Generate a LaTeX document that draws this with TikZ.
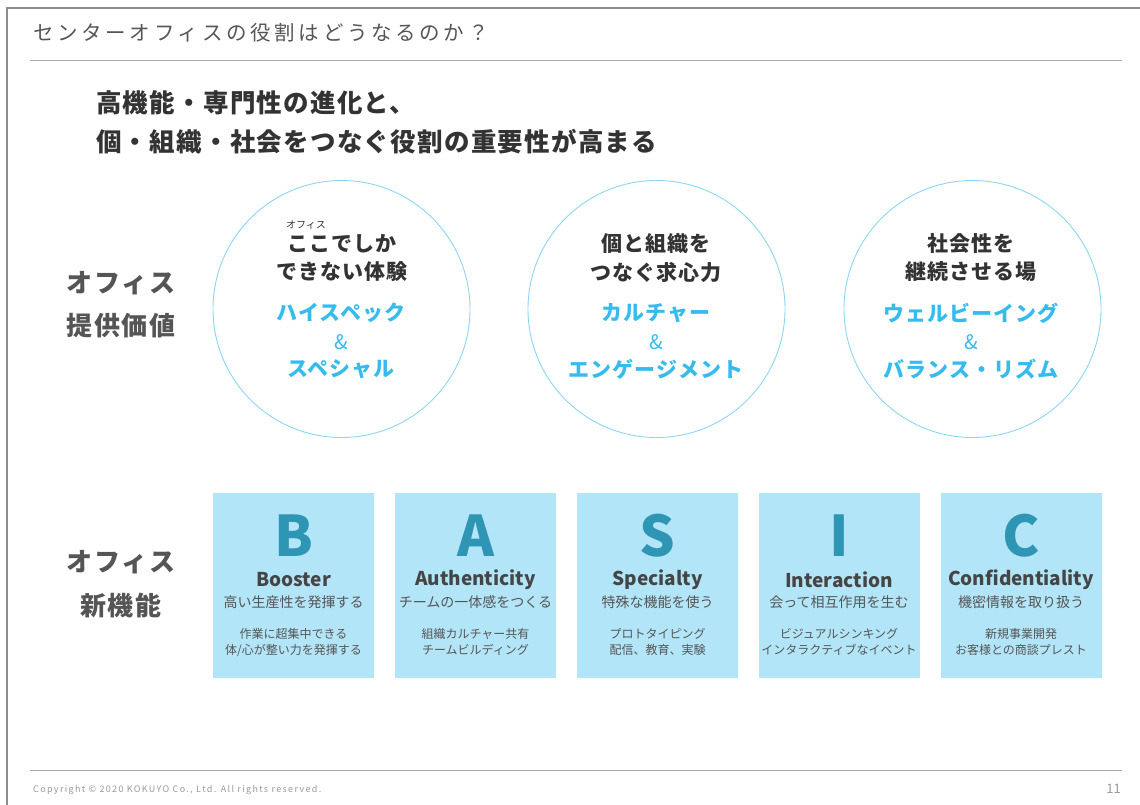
\documentclass[tikz,border=0pt]{standalone}
\usepackage{fontspec}
\setmainfont{Noto Sans CJK JP}
\newfontfamily\titlefont[LetterSpace=18]{Noto Sans CJK JP}
\newfontfamily\headfont[LetterSpace=5]{Noto Sans CJK JP}
\newfontfamily\sidefont[LetterSpace=6]{Noto Sans CJK JP}
\newfontfamily\circfont[LetterSpace=5]{Noto Sans CJK JP}
\newfontfamily\footfont[LetterSpace=15]{Noto Sans CJK JP}
\definecolor{framegray}{HTML}{8C8C8C}
\definecolor{linegray}{HTML}{AAAAAA}
\definecolor{darktext}{HTML}{333333}
\definecolor{midtext}{HTML}{555555}
\definecolor{bluetext}{HTML}{36BBEF}
\definecolor{circline}{HTML}{8AD6F6}
\definecolor{boxfill}{HTML}{B3E5F8}
\definecolor{lettercol}{HTML}{2F95B5}
\definecolor{namecol}{HTML}{454545}
\definecolor{footcol}{HTML}{999999}
\tikzset{
  circ/.style={circle, draw=circline, line width=0.9pt, minimum size=257pt, inner sep=0pt},
  sicbox/.style={rectangle, fill=boxfill, minimum width=161pt, minimum height=185pt, inner sep=0pt},
  ctext/.style={font=\circfont\fontsize{21}{21}\selectfont\bfseries, text=darktext, inner sep=0pt},
  btext/.style={font=\circfont\fontsize{21}{21}\selectfont\bfseries, text=bluetext, inner sep=0pt},
  amp/.style={font=\fontsize{20}{20}\selectfont, text=bluetext, inner sep=0pt},
  sidelabel/.style={font=\sidefont\fontsize{26}{26}\selectfont\bfseries, text=midtext, inner sep=0pt},
  letter/.style={font=\fontsize{56}{56}\selectfont\bfseries, text=lettercol, inner sep=0pt},
  bname/.style={font=\fontsize{19}{19}\selectfont\bfseries, text=namecol, inner sep=0pt},
  bsub/.style={font=\fontsize{14}{14}\selectfont, text=midtext, inner sep=0pt},
  bsmall/.style={font=\fontsize{12}{12}\selectfont, text=midtext, inner sep=0pt},
}
\begin{document}
\begin{tikzpicture}[x=1pt,y=-1pt]
\useasboundingbox (0,0) rectangle (1140,805);
% frame
\draw[framegray, line width=1.6pt] (7,805) -- (7,8) -- (1140,8);
% header
\node[anchor=west, inner sep=0pt, text=midtext, font=\titlefont\fontsize{20.5}{20.5}\selectfont] (title) at (33,33) {センターオフィスの役割はどうなるのか？};
\draw[linegray, line width=1pt] (30,61) -- (1122,61);
% headline
\node[anchor=west, inner sep=0pt, text=darktext, font=\headfont\fontsize{25.5}{25.5}\selectfont\bfseries] (head1) at (96,103) {高機能・専門性の進化と、};
\node[anchor=west, inner sep=0pt, text=darktext, font=\headfont\fontsize{25.5}{25.5}\selectfont\bfseries] (head2) at (96,142) {個・組織・社会をつなぐ役割の重要性が高まる};
% side labels
\node[sidelabel] (lab1a) at (121,283) {オフィス};
\node[sidelabel] (lab1b) at (121,326) {提供価値};
\node[sidelabel] (lab2a) at (121,562) {オフィス};
\node[sidelabel] (lab2b) at (121,606) {新機能};
% circles
\node[circ] (c1) at (341.5,309) {};
\node[circ] (c2) at (656.5,309) {};
\node[circ] (c3) at (972.5,309) {};
% circle 1
\node[inner sep=0pt, text=darktext, font=\fontsize{10}{10}\selectfont] (ruby) at (306,225) {オフィス};
\node[ctext] (c1a) at (342,244) {ここでしか};
\node[ctext] (c1b) at (342,272) {できない体験};
\node[btext] (c1c) at (341,313) {ハイスペック};
\node[amp] (c1d) at (341,342) {\&};
\node[btext] (c1e) at (341,369) {スペシャル};
% circle 2
\node[ctext] (c2a) at (656,244) {個と組織を};
\node[ctext] (c2b) at (656,272) {つなぐ求心力};
\node[btext] (c2c) at (656,313) {カルチャー};
\node[amp] (c2d) at (656,342) {\&};
\node[btext] (c2e) at (656,369) {エンゲージメント};
% circle 3
\node[ctext] (c3a) at (971,244) {社会性を};
\node[ctext] (c3b) at (971,272) {継続させる場};
\node[btext] (c3c) at (971,313) {ウェルビーイング};
\node[amp] (c3d) at (971,342) {\&};
\node[btext] (c3e) at (971,369) {バランス・リズム};
% boxes
\foreach \n/\cx/\L/\nm/\sub/\sa/\sb in {
  b/293.5/B/Booster/高い生産性を発揮する/作業に超集中できる/{体/心が整い力を発揮する},
  a/475.5/A/Authenticity/チームの一体感をつくる/組織カルチャー共有/チームビルディング,
  s/657.5/S/Specialty/特殊な機能を使う/プロトタイピング/配信、教育、実験,
  i/839/I/Interaction/会って相互作用を生む/ビジュアルシンキング/インタラクティブなイベント,
  c/1021/C/Confidentiality/機密情報を取り扱う/新規事業開発/お客様との商談プレスト}{
  \node[sicbox] (box\n) at (\cx,585.5) {};
  \node[letter] (let\n) at (\cx,536) {\L};
  \node[bname] (nm\n) at (\cx,580) {\nm};
  \node[bsub] (sub\n) at (\cx,602) {\sub};
  \node[bsmall] (sa\n) at (\cx,634) {\sa};
  \node[bsmall] (sb\n) at (\cx,650) {\sb};
}
% footer
\draw[linegray, line width=1pt] (30,770) -- (1122,770);
\node[anchor=west, inner sep=0pt, text=footcol, font=\footfont\fontsize{9}{9}\selectfont] (copy) at (33,790) {Copyright © 2020 KOKUYO Co., Ltd. All rights reserved.};
\node[anchor=east, inner sep=0pt, text=footcol, font=\fontsize{13}{13}\selectfont] (page) at (1121,789) {11};
\end{tikzpicture}
\end{document}
